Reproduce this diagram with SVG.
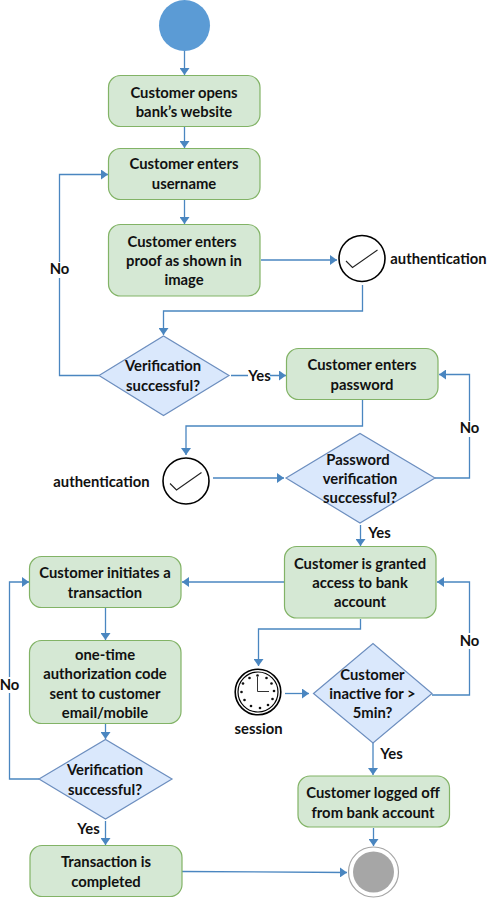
<svg xmlns="http://www.w3.org/2000/svg" width="494" height="898" viewBox="0 0 494 898">
<defs>
<marker id="a" markerUnits="userSpaceOnUse" markerWidth="8" markerHeight="10" refX="7" refY="5" orient="auto"><path d="M0 0L7 5L0 10z" fill="#4a86c0"/></marker>
<g id="chk"><circle r="23" fill="#fff" stroke="#000" stroke-width="1.6"/><path d="M-16 2.500L-9.500 9L15.500-8.500" fill="none" stroke="#222" stroke-width="1.100"/></g>
</defs>
<style>
text{font-family:Lato,"Liberation Sans",sans-serif;font-weight:700;font-size:14.800px;fill:#111;text-anchor:middle}
.box{fill:#d5e8d4;stroke:#82b366;stroke-width:1.200}
.dia{fill:#dae8fc;stroke:#6c8ebf;stroke-width:1.200}
#edges path{fill:none;stroke:#4a86c0;stroke-width:1.300;marker-end:url(#a)}
.lb{fill:#fff;stroke:none}
</style>
<rect width="494" height="898" fill="#fff"/>
<g id="edges">
<path d="M184.500 51V75"/>
<path d="M184.500 127V148"/>
<path d="M184.500 200V224"/>
<path d="M261 260H337"/>
<path d="M362.500 285V311H163.500V335"/>
<path d="M99 375.500H59.500V174.500H108"/>
<path d="M231 375.500H286"/>
<path d="M362.500 400V426H186V455"/>
<path d="M213 478H284"/>
<path d="M435 478H469.500V374.500H439"/>
<path d="M360.500 525V546"/>
<path d="M284 582H182"/>
<path d="M360.500 619V629H258.500V666"/>
<path d="M285 693.500H309"/>
<path d="M432 695H469.500V582H437"/>
<path d="M373 743V775"/>
<path d="M373.500 828V846"/>
<path d="M105.500 608V640"/>
<path d="M105.500 724V739"/>
<path d="M39 779H9.500V582H29"/>
<path d="M105.500 821V845"/>
<path d="M182 871.500L347 872.500"/>
</g>
<g id="start"><circle cx="184.500" cy="25.500" r="25.500" fill="#5b9bd5"/></g>
<g id="n1"><rect class="box" x="108.500" y="75.500" width="151.500" height="51" rx="12"/><text x="184" y="98">Customer opens</text><text x="184" y="117">bank’s website</text></g>
<g id="n2"><rect class="box" x="108.500" y="148.500" width="151.500" height="51" rx="12"/><text x="184" y="169">Customer enters</text><text x="184" y="189">username</text></g>
<g id="n3"><rect class="box" x="108.500" y="224.500" width="151.500" height="71.500" rx="12"/><text x="182" y="247">Customer enters</text><text x="184" y="266">proof as shown in</text><text x="184" y="285">image</text></g>
<g id="auth1"><use href="#chk" x="362" y="258.500"/><text x="438.500" y="264">authentication</text></g>
<g id="d1"><path class="dia" d="M99 375.500L163.500 336L229 375.500L163.500 415.500z"/><text x="163" y="371">Verification</text><text x="163" y="391">successful?</text></g>
<g id="n4"><rect class="box" x="286.500" y="348.500" width="151.500" height="51" rx="12"/><text x="362" y="370">Customer enters</text><text x="362" y="390">password</text></g>
<g id="auth2"><use href="#chk" x="186" y="481"/><text x="101.500" y="487">authentication</text></g>
<g id="d2"><path class="dia" d="M286 478L360 433.500L435 478L360 523z"/><text x="358" y="465">Password</text><text x="360" y="484">verification</text><text x="360" y="503">successful?</text></g>
<g id="n5"><rect class="box" x="284.500" y="546.500" width="151.500" height="71.500" rx="12"/><text x="360" y="569">Customer is granted</text><text x="360" y="588">access to bank</text><text x="360" y="607">account</text></g>
<g id="n6"><rect class="box" x="29.500" y="556.500" width="151.500" height="51" rx="12"/><text x="105" y="578">Customer initiates a</text><text x="105" y="598">transaction</text></g>
<g id="n7"><rect class="box" x="29.500" y="640.500" width="151.500" height="83" rx="12"/><text x="105" y="660">one-time</text><text x="105" y="679">authorization code</text><text x="105" y="699">sent to customer</text><text x="105" y="718">email/mobile</text></g>
<g id="d3"><path class="dia" d="M39 779L105.500 739.500L172 779L105.500 819z"/><text x="105" y="775">Verification</text><text x="105" y="795">successful?</text></g>
<g id="n8"><rect class="box" x="30" y="845.500" width="152" height="51" rx="12"/><text x="106" y="867">Transaction is</text><text x="106" y="887">completed</text></g>
<g id="session"><circle cx="258" cy="692" r="22.800" fill="#fff" stroke="#000" stroke-width="1.600"/><circle cx="258" cy="692" r="20" fill="#fff" stroke="#000" stroke-width="1.200"/>
<g fill="#111"><circle cx="257.500" cy="675.500" r="1.300"/><circle cx="266.500" cy="678" r="1.300"/><circle cx="271.500" cy="683.500" r="1.300"/><circle cx="274" cy="691" r="1.300"/><circle cx="272.500" cy="699" r="1.300"/><circle cx="268" cy="705" r="1.300"/><circle cx="260" cy="708" r="1.300"/><circle cx="251" cy="706" r="1.300"/><circle cx="244.500" cy="700" r="1.300"/><circle cx="241.500" cy="692" r="1.300"/><circle cx="243" cy="683.500" r="1.300"/><circle cx="249.500" cy="678" r="1.300"/></g>
<path d="M257.500 677V691.500H269" fill="none" stroke="#333" stroke-width="1"/><text x="258.500" y="734">session</text></g>
<g id="d4"><path class="dia" d="M313.500 693.500L373 643.500L432 693.500L373 743z"/><text x="372.500" y="680">Customer</text><text x="372.500" y="699">inactive for &gt;</text><text x="372.500" y="718">5min?</text></g>
<g id="n9"><rect class="box" x="298" y="776" width="151.500" height="51" rx="12"/><text x="373" y="798">Customer logged off</text><text x="373" y="818">from bank account</text></g>
<g id="end"><circle cx="373.500" cy="872" r="25" fill="#fff" stroke="#a6a6a6" stroke-width="1.200"/><circle cx="373.500" cy="872" r="20.500" fill="#a6a6a6"/></g>
<g id="labels">
<rect class="lb" x="48" y="262" width="23" height="16"/><text x="59.500" y="274">No</text>
<rect class="lb" x="248" y="368" width="22" height="16"/><text x="259.500" y="381">Yes</text>
<rect class="lb" x="459" y="421" width="22" height="16"/><text x="469.500" y="433">No</text>
<text x="379.500" y="538">Yes</text>
<rect class="lb" x="459" y="633" width="22" height="16"/><text x="469.500" y="646">No</text>
<rect class="lb" x="0" y="677" width="20" height="16"/><text x="9.500" y="690">No</text>
<text x="391.500" y="759">Yes</text>
<text x="88.500" y="834">Yes</text>
</g>
</svg>
